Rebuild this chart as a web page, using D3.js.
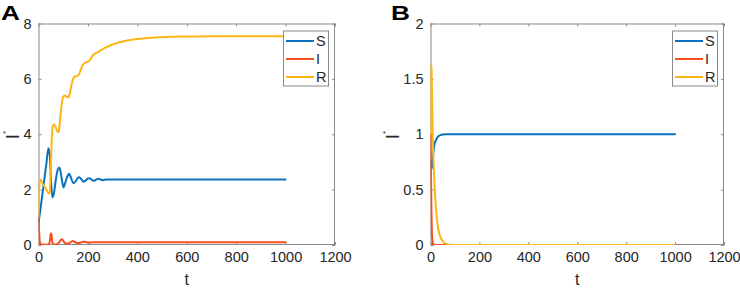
<!DOCTYPE html>
<html>
<head>
<meta charset="utf-8">
<script src="https://cdn.jsdelivr.net/npm/d3@7"></script>
<style>
  html, body { margin: 0; padding: 0; background: #fff; }
  svg { display: block; }
  text { font-family: "Liberation Sans", Arial, Helvetica, sans-serif; }
</style>
</head>
<body>
<svg id="chart" width="740" height="289"></svg>
<script>
// ---------------- DATA ----------------
const seriesNames = ["S", "I", "R"];
const xTicks = [0, 200, 400, 600, 800, 1000, 1200];
const yTicksA = [0, 2, 4, 6, 8];
const yTicksB = [0, 0.5, 1, 1.5, 2];
const yTickLabelsB = ["0", "0.5", "1", "1.5", "2"];

// Panel A
const A_S_t = [0, 8, 16, 24, 32, 40, 46, 51, 56, 62, 70, 78, 85, 93, 101, 110, 118, 124, 132, 141, 150, 158, 165, 173, 182, 192, 200, 206, 214, 222, 232, 242, 251, 260, 275, 300, 1000];
const A_S   = [0.8, 1.3, 1.85, 2.4, 2.95, 3.49, 3.2, 2.3, 1.72, 1.85, 2.35, 2.72, 2.8, 2.45, 2.08, 2.3, 2.5, 2.57, 2.42, 2.23, 2.3, 2.41, 2.45, 2.38, 2.28, 2.34, 2.4, 2.41, 2.37, 2.32, 2.35, 2.39, 2.37, 2.34, 2.37, 2.37, 2.37];
const A_I_t = [0, 2, 4, 6, 9, 14, 25, 35, 42, 46, 49, 51, 53, 56, 60, 66, 75, 84, 90, 94, 99, 106, 115, 125, 133, 138, 144, 152, 162, 172, 180, 186, 195, 210, 230, 260, 1000];
const A_I   = [1.0, 0.6, 0.25, 0.08, 0.03, 0.015, 0.01, 0.01, 0.03, 0.15, 0.36, 0.42, 0.35, 0.12, 0.03, 0.015, 0.03, 0.1, 0.18, 0.21, 0.17, 0.08, 0.05, 0.07, 0.12, 0.14, 0.12, 0.08, 0.07, 0.09, 0.12, 0.12, 0.1, 0.09, 0.1, 0.1, 0.1];
const A_R_t = [0, 2, 5, 8, 15, 25, 35, 42, 45, 48, 51, 54, 58, 63, 70, 78, 82, 88, 94, 100, 106, 113, 120, 126, 133, 140, 147, 155, 163, 170, 178, 188, 198, 207, 215, 222, 230, 240, 250, 265, 280, 300, 320, 345, 370, 400, 440, 485, 540, 600, 700, 1000];
const A_R   = [1.0, 1.9, 2.3, 2.37, 2.25, 2.1, 1.95, 1.86, 1.88, 2.3, 3.2, 3.9, 4.28, 4.36, 4.25, 4.07, 4.1, 4.6, 5.1, 5.35, 5.4, 5.36, 5.33, 5.45, 5.75, 6.0, 6.08, 6.1, 6.15, 6.3, 6.48, 6.58, 6.62, 6.66, 6.78, 6.87, 6.92, 6.96, 7.02, 7.1, 7.17, 7.24, 7.3, 7.36, 7.4, 7.44, 7.48, 7.5, 7.52, 7.53, 7.54, 7.54];

// Panel B
const B_S_t = [0, 4, 6, 8, 11, 14, 18, 24, 31, 40, 50, 65, 1000];
const B_S   = [0.76, 0.69, 0.7, 0.74, 0.82, 0.88, 0.925, 0.955, 0.98, 0.992, 0.998, 1.0, 1.0];
const B_I_t = [0, 1, 2, 3, 4, 5, 6, 8, 10, 14, 20, 1000];
const B_I   = [1.0, 0.85, 0.65, 0.45, 0.3, 0.18, 0.1, 0.04, 0.015, 0.003, 0, 0];
const B_R_t = [0, 1, 2, 3, 4, 6, 8, 10, 13, 16, 19, 23, 28, 34, 40, 48, 56, 65, 80, 100, 1000];
const B_R   = [1.0, 1.35, 1.58, 1.63, 1.6, 1.4, 1.15, 0.93, 0.72, 0.56, 0.44, 0.32, 0.2, 0.12, 0.075, 0.04, 0.02, 0.008, 0.002, 0, 0];

const colors = ["#0b72bd", "#f5501e", "#fdb515"];

// ---------------- DRAW ----------------
const svg = d3.select("#chart");
const axisColor = "#8a8a8a";
const textColor = "#262626";

function panel(cfg) {
  const g = svg.append("g");
  const x = d3.scaleLinear().domain([0, 1200]).range([cfg.left, cfg.right]);
  const y = d3.scaleLinear().domain(cfg.yDomain).range([cfg.bottom, cfg.top]);

  const clipId = "clip" + cfg.letter;
  svg.append("clipPath").attr("id", clipId).append("rect")
    .attr("x", cfg.left).attr("y", cfg.top)
    .attr("width", cfg.right - cfg.left).attr("height", cfg.bottom - cfg.top);

  // axes (inward ticks, mirrored)
  const tickLen = 3;
  const xb = d3.axisBottom(x).tickValues(xTicks).tickSize(-tickLen).tickPadding(7).tickFormat(d3.format("d"));
  const xt = d3.axisTop(x).tickValues(xTicks).tickSize(-tickLen).tickFormat("");
  const yl = d3.axisLeft(y).tickValues(cfg.yTicks).tickSize(-tickLen).tickPadding(7)
    .tickFormat((d, i) => cfg.yLabels[i]);
  const yr = d3.axisRight(y).tickValues(cfg.yTicks).tickSize(-tickLen).tickFormat("");

  function style(sel) {
    sel.select(".domain").remove();
    sel.selectAll("line").attr("stroke", axisColor).attr("stroke-width", 1);
    sel.selectAll("text").attr("fill", textColor).style("font-size", "14.5px")
      .style("font-family", "'Liberation Sans', Arial, sans-serif");
  }
  g.append("g").attr("transform", `translate(0,${cfg.bottom})`).call(xb).call(style);
  g.append("g").attr("transform", `translate(0,${cfg.top})`).call(xt).call(style);
  g.append("g").attr("transform", `translate(${cfg.left},0)`).call(yl).call(style);
  g.append("g").attr("transform", `translate(${cfg.right},0)`).call(yr).call(style);

  g.append("rect")
    .attr("x", cfg.left + 0.5).attr("y", cfg.top + 0.5)
    .attr("width", cfg.right - cfg.left - 1).attr("height", cfg.bottom - cfg.top - 1)
    .attr("fill", "none").attr("stroke", axisColor).attr("stroke-width", 1);

  // lines
  const line = d3.line().x(d => x(d[0])).y(d => y(d[1])).curve(d3.curveMonotoneX);
  const lg = g.append("g").attr("clip-path", `url(#${clipId})`);
  cfg.series.forEach((s, i) => {
    const pts = s.t.map((t, k) => [t, s.v[k]]);
    lg.append("path").datum(pts).attr("d", line)
      .attr("fill", "none").attr("stroke", colors[i]).attr("stroke-width", 2)
      .attr("stroke-linejoin", "round").attr("stroke-linecap", "round");
  });

  // legend
  const lgx = cfg.right - 52, lgy = cfg.top + 7;
  const leg = g.append("g");
  leg.append("rect").attr("x", lgx + 0.5).attr("y", lgy + 0.5).attr("width", 45).attr("height", 55)
    .attr("fill", "#fff").attr("stroke", axisColor).attr("stroke-width", 1);
  seriesNames.forEach((n, i) => {
    const yy = lgy + 10.5 + i * 18;
    leg.append("line").attr("x1", lgx + 3).attr("x2", lgx + 31).attr("y1", yy).attr("y2", yy)
      .attr("stroke", colors[i]).attr("stroke-width", 2);
    leg.append("text").attr("x", lgx + 33).attr("y", yy + 5).text(n)
      .attr("fill", textColor).style("font-size", "14.5px");
  });

  // x label
  g.append("text").attr("x", (cfg.left + cfg.right) / 2).attr("y", 285)
    .attr("text-anchor", "middle").attr("fill", textColor).style("font-size", "16px").text("t");

  // y label "I*"
  const ylab = g.append("text")
    .attr("transform", `translate(${cfg.yLabelX},${(cfg.top + cfg.bottom) / 2 + 0.8}) rotate(-90)`)
    .attr("text-anchor", "middle").attr("fill", textColor).style("font-size", "19px");
  ylab.append("tspan").text("I");
  ylab.append("tspan").attr("dy", "-11px").style("font-size", "8px").text("*");

  // panel letter
  g.append("text").attr("transform", `translate(${cfg.letterX},20) scale(1.25,1)`).attr("fill", "#000")
    .style("font-size", "21px").style("font-weight", "bold").text(cfg.letter);
}

panel({
  letter: "A", letterX: 1, yLabelX: 19,
  left: 38.5, right: 335, top: 23.5, bottom: 245,
  yDomain: [0, 8], yTicks: yTicksA, yLabels: yTicksA.map(String),
  series: [{t: A_S_t, v: A_S}, {t: A_I_t, v: A_I}, {t: A_R_t, v: A_R}]
});
panel({
  letter: "B", letterX: 391, yLabelX: 398.5,
  left: 430.5, right: 724, top: 23.5, bottom: 245,
  yDomain: [0, 2], yTicks: yTicksB, yLabels: yTickLabelsB,
  series: [{t: B_S_t, v: B_S}, {t: B_I_t, v: B_I}, {t: B_R_t, v: B_R}]
});
</script>
</body>
</html>
